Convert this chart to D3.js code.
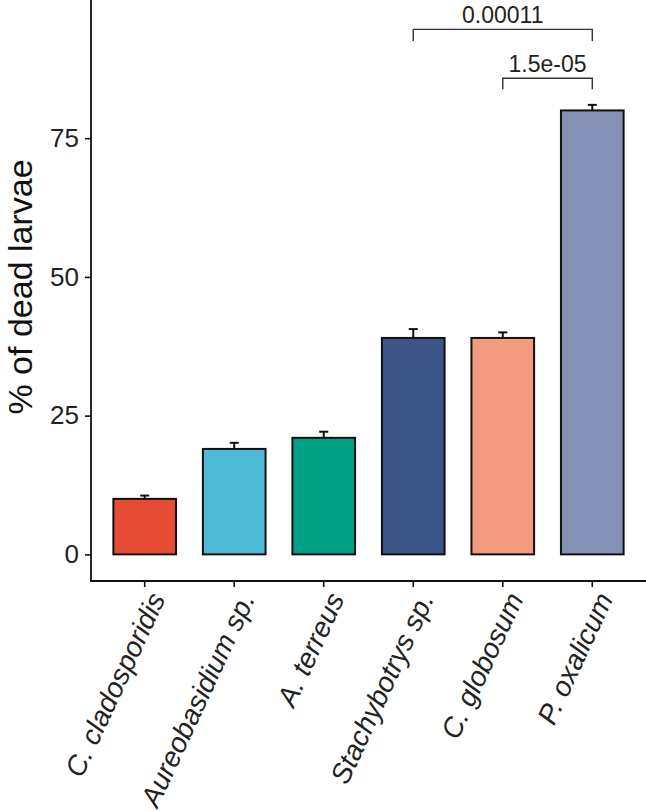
<!DOCTYPE html>
<html>
<head>
<meta charset="utf-8">
<script src="https://cdn.jsdelivr.net/npm/d3@7"></script>
<style>
  html, body { margin: 0; padding: 0; background: #fff; }
  svg { display: block; font-family: "Liberation Sans", Arial, sans-serif; }
</style>
</head>
<body>
<svg id="chart" width="646" height="811"></svg>
<script>
// ---- data ----
const categories = ["C. cladosporidis", "Aureobasidium sp.", "A. terreus", "Stachybotrys sp.", "C. globosum", "P. oxalicum"];
const values = [10, 19, 21, 39, 39, 80];
const errors = [0.6, 1.1, 1.1, 1.6, 1.0, 1.0];
const colors = ["#E64B35", "#4DBBD5", "#00A087", "#3C5488", "#F39B7F", "#8491B4"];
const yTicks = [0, 25, 50, 75];
const yTitle = "% of dead larvae";
// significance brackets
const bracketFrom = ["Stachybotrys sp.", "C. globosum"];
const bracketTo = ["P. oxalicum", "P. oxalicum"];
const bracketY = [94.6, 85.8];
const bracketTip = [92.5, 83.8];
const bracketLabel = ["0.00011", "1.5e-05"];

// ---- layout ----
const svg = d3.select("#chart");
const mLeft = 91, mRight = 646, mTop = 0, mBottom = 581;

const x = d3.scaleBand().domain(categories).range([mLeft, mRight])
  .paddingInner(0.3).paddingOuter(0.25);
const y = d3.scaleLinear().domain([-4.8, 99.9]).range([mBottom, mTop]);

const data = categories.map((c, i) => ({ c, v: values[i], e: errors[i], col: colors[i] }));

// bars
svg.append("g").selectAll("rect").data(data).join("rect")
  .attr("x", d => x(d.c))
  .attr("y", d => y(d.v))
  .attr("width", x.bandwidth())
  .attr("height", d => y(0) - y(d.v))
  .attr("fill", d => d.col)
  .attr("stroke", "#111")
  .attr("stroke-width", 2);

// error bars (upper part)
const eb = svg.append("g").attr("stroke", "#111").attr("stroke-width", 2);
data.forEach(d => {
  const cx = x(d.c) + x.bandwidth() / 2;
  eb.append("line").attr("x1", cx).attr("x2", cx).attr("y1", y(d.v)).attr("y2", y(d.v + d.e));
  eb.append("line").attr("x1", cx - 4.5).attr("x2", cx + 4.5).attr("y1", y(d.v + d.e)).attr("y2", y(d.v + d.e));
});

// axes
const yAxis = svg.append("g").attr("transform", `translate(${mLeft},0)`)
  .call(d3.axisLeft(y).tickValues(yTicks).tickSize(6).tickPadding(6));
yAxis.select(".domain").remove();
yAxis.selectAll(".tick line").attr("stroke", "#111").attr("stroke-width", 1.6);
yAxis.selectAll(".tick text").attr("font-size", 26).attr("fill", "#222")
  .attr("font-family", "Liberation Sans, Arial, sans-serif");

const xAxis = svg.append("g").attr("transform", `translate(0,${mBottom})`)
  .call(d3.axisBottom(x).tickSize(6).tickPadding(0));
xAxis.select(".domain").remove();
xAxis.selectAll(".tick line").attr("stroke", "#111").attr("stroke-width", 1.6);
xAxis.selectAll(".tick text")
  .attr("font-size", 28).attr("font-style", "italic").attr("fill", "#222")
  .attr("font-family", "Liberation Sans, Arial, sans-serif")
  .attr("text-anchor", "end")
  .attr("dy", "0.72em")
  .attr("transform", "translate(3,9) rotate(-65)")
  .attr("y", 0).attr("x", 0);

// axis lines
svg.append("line").attr("x1", mLeft).attr("x2", mLeft).attr("y1", mTop).attr("y2", mBottom + 0.8)
  .attr("stroke", "#111").attr("stroke-width", 1.8);
svg.append("line").attr("x1", mLeft - 0.8).attr("x2", mRight).attr("y1", mBottom).attr("y2", mBottom)
  .attr("stroke", "#111").attr("stroke-width", 1.8);

// y title
svg.append("text")
  .attr("transform", `translate(32,287) rotate(-90)`)
  .attr("text-anchor", "middle")
  .attr("font-size", 34).attr("fill", "#111")
  .text(yTitle);

// brackets
const br = svg.append("g");
bracketLabel.forEach((lab, i) => {
  const x1 = x(bracketFrom[i]) + x.bandwidth() / 2;
  const x2 = x(bracketTo[i]) + x.bandwidth() / 2;
  br.append("path")
    .attr("d", `M${x1},${y(bracketTip[i])}V${y(bracketY[i])}H${x2}V${y(bracketTip[i])}`)
    .attr("fill", "none").attr("stroke", "#333").attr("stroke-width", 1.4);
  br.append("text")
    .attr("x", (x1 + x2) / 2).attr("y", y(bracketY[i]) - 6)
    .attr("text-anchor", "middle").attr("font-size", 23).attr("fill", "#222")
    .text(lab);
});
</script>
</body>
</html>
